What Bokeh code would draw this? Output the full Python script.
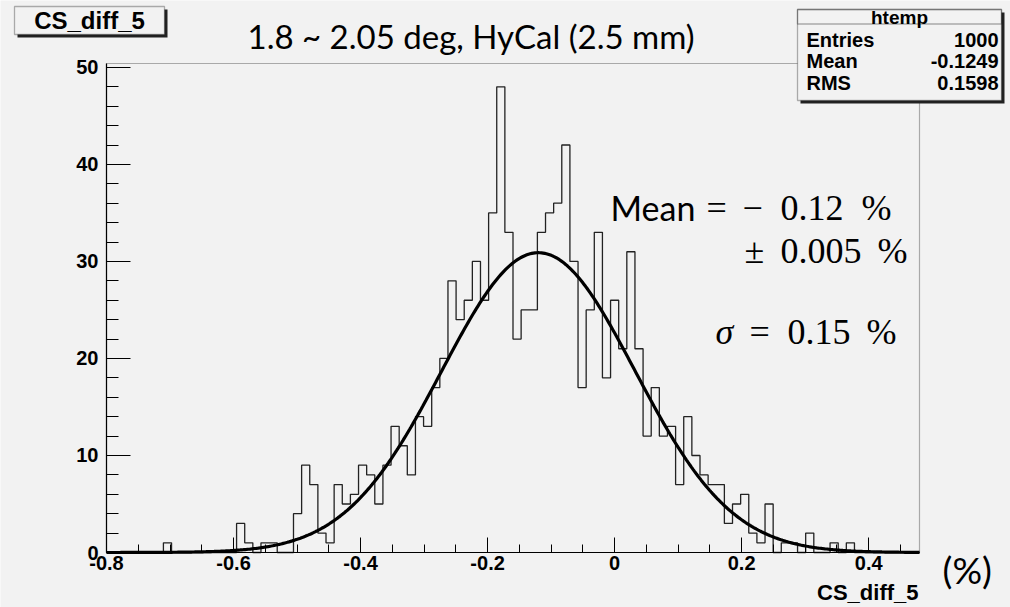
import numpy as np
from bokeh.plotting import figure
from bokeh.models import (Range1d, FixedTicker, PrintfTickFormatter, Label, BoxAnnotation,
                          LinearAxis)
from bokeh.embed import file_html
from bokeh.resources import INLINE

# ---------------- data ----------------
x_min, x_max, n_bins = -0.8, 0.48, 100
y_top = 50.4
counts = [
    0, 0, 0, 0, 0, 0, 0, 1, 0, 0,
    0, 0, 0, 0, 0, 0, 3, 1, 0, 1,
    1, 0, 0, 4, 9, 7, 2, 1, 7, 5,
    6, 9, 8, 5, 9, 13, 11, 8, 14, 13,
    17, 20, 28, 24, 26, 30, 26, 35, 48, 33,
    22, 25, 25, 33, 35, 36, 42, 30, 17, 25,
    33, 18, 26, 21, 31, 21, 12, 17, 12, 13,
    7, 14, 10, 8, 7, 7, 3, 5, 6, 2,
    1, 5, 0, 1, 1, 0, 2, 0, 0, 1,
    0, 1, 0, 0, 0, 0, 0, 0, 0, 0,
]
hist_name = "htemp"
var_name = "CS_diff_5"
stat_labels = ["Entries", "Mean", "RMS"]
stat_values = ["1000", "-0.1249", "0.1598"]
fit_amp = 30.9
fit_mean = -0.12
fit_sigma = 0.152
x_ticks = [-0.8, -0.6, -0.4, -0.2, 0.0, 0.2, 0.4]
x_minor = [round(-0.8 + 0.05 * i, 2) for i in range(26)]
y_ticks = [0, 10, 20, 30, 40, 50]
y_minor = list(range(0, 51, 2))
title_text = "1.8 ~ 2.05 deg, HyCal (2.5 mm)"

# ---------------- layout constants (pixels) ----------------
W, H = 1010, 607
FR_L, FR_R, FR_T, FR_B = 106, 919, 63, 552
BG = "#f2f2f2"
sx = (x_max - x_min) / (FR_R - FR_L)
sy = y_top / (FR_B - FR_T)


def dx(px):
    return x_min + (px - FR_L) * sx


def dy(py):
    return (FR_B - py) * sy


p = figure(width=W, height=H,
           x_range=Range1d(dx(0), dx(W)), y_range=Range1d(dy(H), dy(0)),
           output_backend="svg", toolbar_location=None,
           x_axis_location=None, y_axis_location=None,
           min_border_left=0, min_border_right=0, min_border_top=0, min_border_bottom=0,
           background_fill_color=BG, border_fill_color=BG, outline_line_color=None)
p.xgrid.visible = False
p.ygrid.visible = False

# histogram outline
edges = np.linspace(x_min, x_max, n_bins + 1)
p.step(x=edges, y=list(counts) + [counts[-1]], mode="after", line_color="#222222", line_width=1.3)

# gaussian fit
xs = np.linspace(x_min, x_max, 500)
ys = fit_amp * np.exp(-0.5 * ((xs - fit_mean) / fit_sigma) ** 2)
p.line(xs, ys, line_color="black", line_width=3.2)

# plot frame
p.add_layout(BoxAnnotation(left=x_min, right=x_max, bottom=0, top=y_top, fill_color=None,
                           line_color="black", line_width=1.2))

# axes fixed at the frame edges
xa = LinearAxis(fixed_location=0, bounds=(x_min, x_max),
                ticker=FixedTicker(ticks=x_ticks, minor_ticks=x_minor),
                formatter=PrintfTickFormatter(format="%.1f"))
xa.major_label_overrides = {0.0: "0"}
ya = LinearAxis(fixed_location=x_min, bounds=(0, y_top),
                ticker=FixedTicker(ticks=y_ticks, minor_ticks=y_minor))
for ax, tin, tmin in ((xa, 15, 8), (ya, 24, 12)):
    ax.major_tick_in = tin
    ax.major_tick_out = 0
    ax.minor_tick_in = tmin
    ax.minor_tick_out = 0
    ax.axis_line_color = "black"
    ax.axis_line_width = 1.2
    ax.major_tick_line_color = "black"
    ax.minor_tick_line_color = "black"
    ax.major_label_text_font = "Liberation Sans"
    ax.major_label_text_font_style = "bold"
    ax.major_label_text_font_size = "20px"
    ax.major_label_text_color = "black"
xa.major_label_standoff = 3
ya.major_label_standoff = 8
p.add_layout(xa, "below")
p.add_layout(ya, "left")


def box(l, t, r, b, shadow=3, lw=1.3):
    if shadow:
        p.add_layout(BoxAnnotation(left=dx(l + shadow), right=dx(r + shadow), top=dy(t + shadow),
                                   bottom=dy(b + shadow), fill_color="#222222", fill_alpha=1,
                                   line_color=None))
    p.add_layout(BoxAnnotation(left=dx(l), right=dx(r), top=dy(t), bottom=dy(b),
                               fill_color=BG, fill_alpha=1, line_color="black", line_width=lw))


def lab(text, px, py, font="Liberation Sans", size="20px", style="normal", align="left"):
    p.add_layout(Label(x=dx(px), y=dy(py), text=text, text_font=font, text_font_size=size,
                       text_font_style=style, text_align=align, text_baseline="middle",
                       text_color="black"))


# title box (top-left)
box(14, 6, 164, 34)
lab(var_name, 89, 20, size="24px", style="bold", align="center")

# main title
lab(title_text, 247, 35.5, font="Lato", size="33px")

# stats box
box(797, 9, 1001, 100)
p.add_layout(BoxAnnotation(left=dx(797), right=dx(1001), top=dy(9), bottom=dy(23.5),
                           fill_color=None, line_color="black", line_width=1.3))
lab(hist_name, 899, 16.5, size="19px", style="bold", align="center")
for i, (sl, sv) in enumerate(zip(stat_labels, stat_values)):
    mid = 39 + i * 21.75
    lab(sl, 806, mid, size="20px", style="bold")
    lab(sv, 998, mid, size="20px", style="bold", align="right")

# axis title and unit
lab(var_name, 918, 591.5, size="22px", style="bold", align="right")
lab("(%)", 942, 569, font="Lato", size="37px")

# fit annotations
SER = "Liberation Serif"
lab("Mean", 610, 207, font="Lato", size="34px")
lab("=", 706, 207, font=SER, size="36px")
lab("\u2212", 742, 207, font=SER, size="36px")
lab("0.12", 780, 207, font=SER, size="36px")
lab("%", 861, 207, font=SER, size="36px")
lab("\u00b1", 744, 250.5, font=SER, size="36px")
lab("0.005", 780, 250.5, font=SER, size="36px")
lab("%", 877, 250.5, font=SER, size="36px")
lab("\u03c3", 715, 331, font=SER, size="36px", style="italic")
lab("=", 749, 331, font=SER, size="36px")
lab("0.15", 787, 331, font=SER, size="36px")
lab("%", 866, 331, font=SER, size="36px")

open("out.html", "w").write(file_html(p, INLINE))
